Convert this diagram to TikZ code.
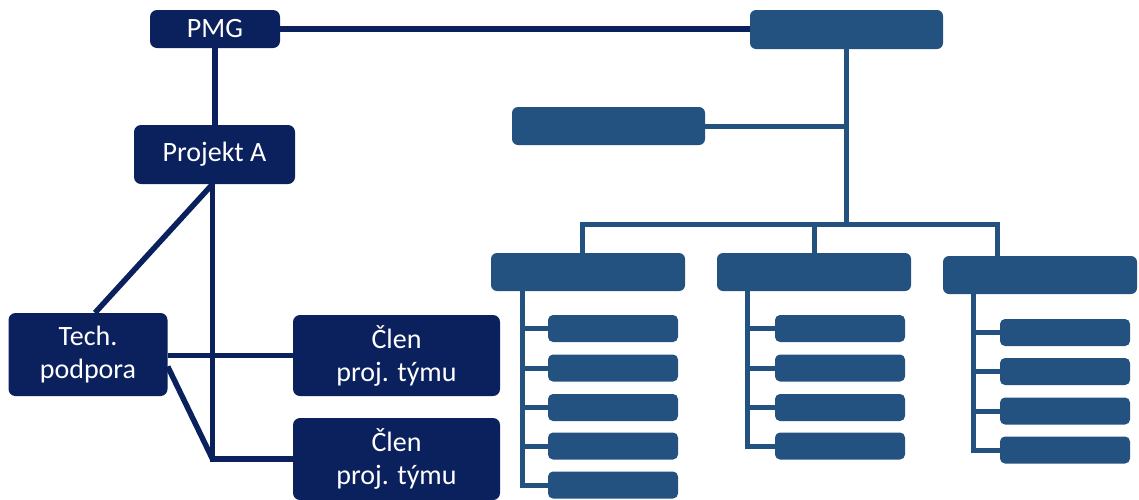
\documentclass[tikz,border=0pt]{standalone}
\usepackage{fontspec}
\setmainfont{Carlito}
\usetikzlibrary{backgrounds}
\definecolor{navy}{RGB}{11,33,94}
\definecolor{steel}{RGB}{36,82,128}
\begin{document}
\begin{tikzpicture}[x=1pt,y=-1pt,
 nbox/.style={fill=navy, rounded corners=7pt, text=white, align=center, font=\fontsize{28}{33}\selectfont, inner sep=0pt},
 sbox/.style={fill=steel, rounded corners=6pt, inner sep=0pt, minimum width=194pt, minimum height=38pt},
 subbox/.style={fill=steel, rounded corners=5pt, inner sep=0pt, minimum width=130pt, minimum height=27pt},
 nline/.style={draw=navy, line width=5.5pt},
 sline/.style={draw=steel, line width=5pt}]
\useasboundingbox (0,0) rectangle (1139,499);
% left part
\node[nbox, minimum width=130pt, minimum height=38pt] (pmg) at (215,29) {PMG};
\node[nbox, minimum width=161pt, minimum height=59pt] (proja) at (214.5,154.5) {Projekt A};
\node[nbox, minimum width=159pt, minimum height=83pt] (tech) at (88,354.5) {Tech.\\podpora};
\node[nbox, minimum width=207pt, minimum height=81pt] (clen1) at (396.5,355.5) {Člen\\proj. týmu};
\node[nbox, minimum width=207pt, minimum height=82pt] (clen2) at (396.5,459) {Člen\\proj. týmu};
% right part
\node[sbox, minimum width=193pt, minimum height=39pt] (top) at (846.5,29.5) {};
\node[sbox, minimum width=193pt] (mid) at (608.5,126) {};
\node[sbox] (A) at (588,272) {};
\node[sbox] (B) at (814,272) {};
\node[sbox] (C) at (1040,275) {};
\foreach \i/\y in {1/328.5,2/368,3/407.5,4/446,5/485}{
  \node[subbox] (a\i) at (613,\y) {};
}
\foreach \i/\y in {1/328.5,2/368,3/407.5,4/446}{
  \node[subbox] (b\i) at (840,\y) {};
}
\foreach \i/\y in {1/332.5,2/371.5,3/411,4/450}{
  \node[subbox] (c\i) at (1065,\y) {};
}
\coordinate (bus) at (top.south |- 0,224);
\coordinate (pa) at ([xshift=-2pt]proja.south);
\coordinate (vb) at (pa |- clen2.west);
\begin{scope}[on background layer]
\draw[nline] (pmg.south) -- (pmg.south |- proja.north);
\draw[nline] (pmg.east) -- (pmg.east -| top.west);
\draw[nline] (pa) -- ([xshift=7pt]tech.north);
\draw[nline] (pa) -- (vb) -- (clen2.west);
\draw[nline] (tech.east |- clen1.west) -- (clen1.west);
\draw[nline] ([yshift=-12pt]tech.east) -- (vb);
\draw[sline] (top.south) -- (bus);
\draw[sline] (mid.east) -- (mid.east -| top.south);
\draw[sline] ([xshift=-6pt]A.north) |- (bus) -| ([xshift=-43pt]C.north);
\draw[sline] (B.north) -- (B.north |- bus);
\foreach \i in {1,...,5}{\draw[sline] ([xshift=-66pt]A.south) |- (a\i.west);}
\foreach \i in {1,...,4}{\draw[sline] ([xshift=-67pt]B.south) |- (b\i.west);}
\foreach \i in {1,...,4}{\draw[sline] ([xshift=-67pt]C.south) |- (c\i.west);}
\end{scope}
\end{tikzpicture}
\end{document}
